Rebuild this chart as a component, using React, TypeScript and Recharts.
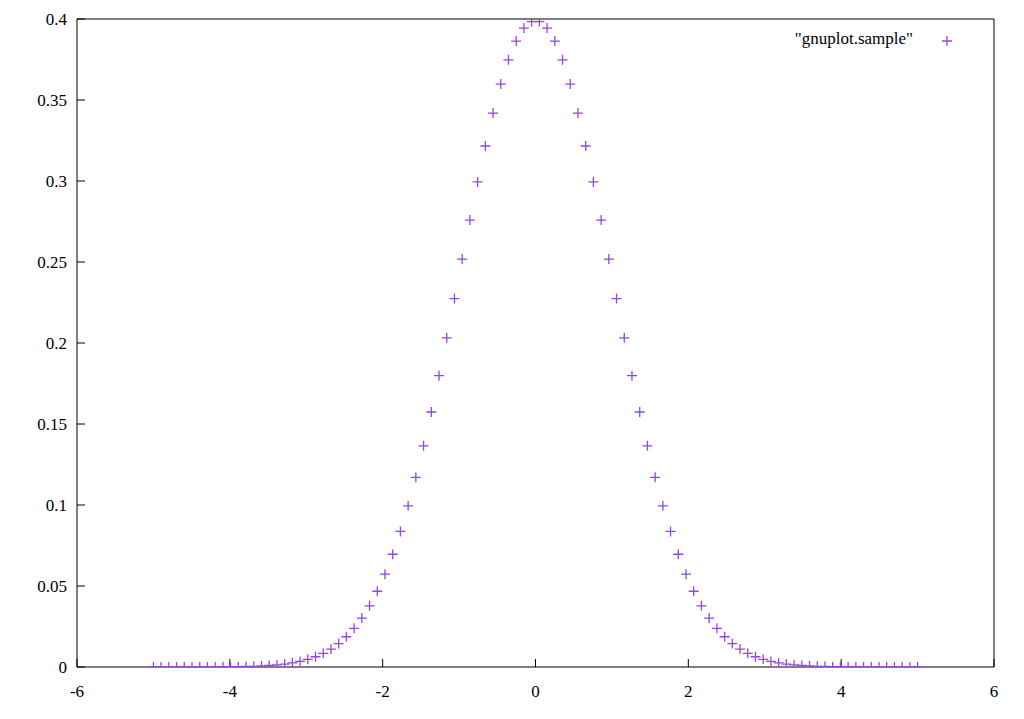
import React from "react";
import { ScatterChart, Scatter, XAxis, YAxis, Legend } from "recharts";

const sampleX: number[] = [
  -5.0, -4.899, -4.798, -4.697, -4.596, -4.4949, -4.3939, -4.2929, -4.1919, -4.0909,
  -3.9899, -3.8889, -3.7879, -3.6869, -3.5859, -3.4848, -3.3838, -3.2828, -3.1818, -3.0808,
  -2.9798, -2.8788, -2.7778, -2.6768, -2.5758, -2.4747, -2.3737, -2.2727, -2.1717, -2.0707,
  -1.9697, -1.8687, -1.7677, -1.6667, -1.5657, -1.4646, -1.3636, -1.2626, -1.1616, -1.0606,
  -0.9596, -0.8586, -0.7576, -0.6566, -0.5556, -0.4545, -0.3535, -0.2525, -0.1515, -0.0505,
  0.0505, 0.1515, 0.2525, 0.3535, 0.4545, 0.5556, 0.6566, 0.7576, 0.8586, 0.9596,
  1.0606, 1.1616, 1.2626, 1.3636, 1.4646, 1.5657, 1.6667, 1.7677, 1.8687, 1.9697,
  2.0707, 2.1717, 2.2727, 2.3737, 2.4747, 2.5758, 2.6768, 2.7778, 2.8788, 2.9798,
  3.0808, 3.1818, 3.2828, 3.3838, 3.4848, 3.5859, 3.6869, 3.7879, 3.8889, 3.9899,
  4.0909, 4.1919, 4.2929, 4.3939, 4.4949, 4.596, 4.697, 4.798, 4.899, 5.0,
];

const sampleY: number[] = [
  0.0000015, 0.0000025, 0.000004, 0.0000065, 0.0000103, 0.0000164, 0.0000256, 0.0000397, 0.000061, 0.0000927,
  0.000139, 0.000207, 0.000306, 0.000446, 0.000644, 0.00092, 0.001302, 0.001823, 0.002528, 0.003468,
  0.004708, 0.00633, 0.00842, 0.01109, 0.01446, 0.01867, 0.02386, 0.03017, 0.03775, 0.04675,
  0.05733, 0.06961, 0.08367, 0.0995, 0.1171, 0.1365, 0.1574, 0.1798, 0.2032, 0.2274,
  0.2518, 0.2759, 0.2994, 0.3216, 0.3419, 0.3598, 0.3748, 0.3864, 0.3944, 0.3984,
  0.3984, 0.3944, 0.3864, 0.3748, 0.3598, 0.3419, 0.3216, 0.2994, 0.2759, 0.2518,
  0.2274, 0.2032, 0.1798, 0.1574, 0.1365, 0.1171, 0.0995, 0.08367, 0.06961, 0.05733,
  0.04675, 0.03775, 0.03017, 0.02386, 0.01867, 0.01446, 0.01109, 0.00842, 0.00633, 0.004708,
  0.003468, 0.002528, 0.001823, 0.001302, 0.00092, 0.000644, 0.000446, 0.000306, 0.000207, 0.000139,
  0.0000927, 0.000061, 0.0000397, 0.0000256, 0.0000164, 0.0000103, 0.0000065, 0.000004, 0.0000025, 0.0000015,
];

const xTicks: number[] = [-6, -4, -2, 0, 2, 4, 6];
const yTicks: number[] = [0, 0.05, 0.1, 0.15, 0.2, 0.25, 0.3, 0.35, 0.4];
const seriesName = '"gnuplot.sample"';

const data = sampleX.map((x, i) => ({ x, y: sampleY[i] }));

const COLOR = "#9148e0";
const FONT = "'Liberation Serif', 'Times New Roman', serif";

const Plus = (props: any) => {
  const { cx, cy } = props;
  if (cx == null || cy == null) return null;
  return (
    <path
      d={`M${cx - 5},${cy}H${cx + 5}M${cx},${cy - 5}V${cy + 5}`}
      stroke={COLOR}
      strokeWidth={1.3}
      fill="none"
    />
  );
};

const LegendContent = () => (
  <div style={{ position: "relative", width: 260, height: 24, fontFamily: FONT, fontSize: 17, color: "#000" }}>
    <span style={{ position: "absolute", right: 47, top: 0, whiteSpace: "nowrap" }}>{seriesName}</span>
    <svg width={12} height={12} style={{ position: "absolute", right: 7, top: 6 }}>
      <path d="M1,6H11M6,1V11" stroke={COLOR} strokeWidth={1.3} fill="none" />
    </svg>
  </div>
);

const tickStyle = { fontFamily: FONT, fontSize: 17, fill: "#000" };

export default function App() {
  return (
    <div style={{ position: "absolute", left: 0, top: 0, width: 1024, height: 719, background: "#fff" }}>
      <ScatterChart width={1024} height={719} margin={{ top: 0, right: 0, bottom: 0, left: 0 }}>
        <XAxis
          xAxisId="bottom"
          dataKey="x"
          type="number"
          domain={[-6, 6]}
          ticks={xTicks}
          allowDataOverflow
          orientation="bottom"
          height={52}
          tickSize={-8}
          tickMargin={26}
          tick={tickStyle}
          axisLine={{ stroke: "#000", strokeWidth: 1 }}
          tickLine={{ stroke: "#000", strokeWidth: 1 }}
          interval={0}
        />
        <XAxis
          xAxisId="top"
          dataKey="x"
          type="number"
          domain={[-6, 6]}
          ticks={xTicks}
          allowDataOverflow
          orientation="top"
          height={19}
          tickSize={-8}
          tick={false}
          axisLine={{ stroke: "#000", strokeWidth: 1 }}
          tickLine={{ stroke: "#000", strokeWidth: 1 }}
          interval={0}
        />
        <YAxis
          yAxisId="left"
          dataKey="y"
          type="number"
          domain={[0, 0.4]}
          ticks={yTicks}
          allowDataOverflow
          orientation="left"
          width={77}
          tickSize={-8}
          tickMargin={18}
          tick={tickStyle}
          axisLine={{ stroke: "#000", strokeWidth: 1 }}
          tickLine={{ stroke: "#000", strokeWidth: 1 }}
          interval={0}
        />
        <YAxis
          yAxisId="right"
          dataKey="y"
          type="number"
          domain={[0, 0.4]}
          ticks={yTicks}
          allowDataOverflow
          orientation="right"
          width={30}
          tickSize={-8}
          tick={false}
          axisLine={{ stroke: "#000", strokeWidth: 1 }}
          tickLine={{ stroke: "#000", strokeWidth: 1 }}
          interval={0}
        />
        <Legend
          layout="vertical"
          align="center"
          verticalAlign="middle"
          wrapperStyle={{ position: "absolute", top: 29, left: 700, width: 260, height: 24 }}
          content={<LegendContent />}
        />
        <Scatter
          name={seriesName}
          data={data}
          xAxisId="bottom"
          yAxisId="left"
          shape={<Plus />}
          isAnimationActive={false}
        />
      </ScatterChart>
    </div>
  );
}
